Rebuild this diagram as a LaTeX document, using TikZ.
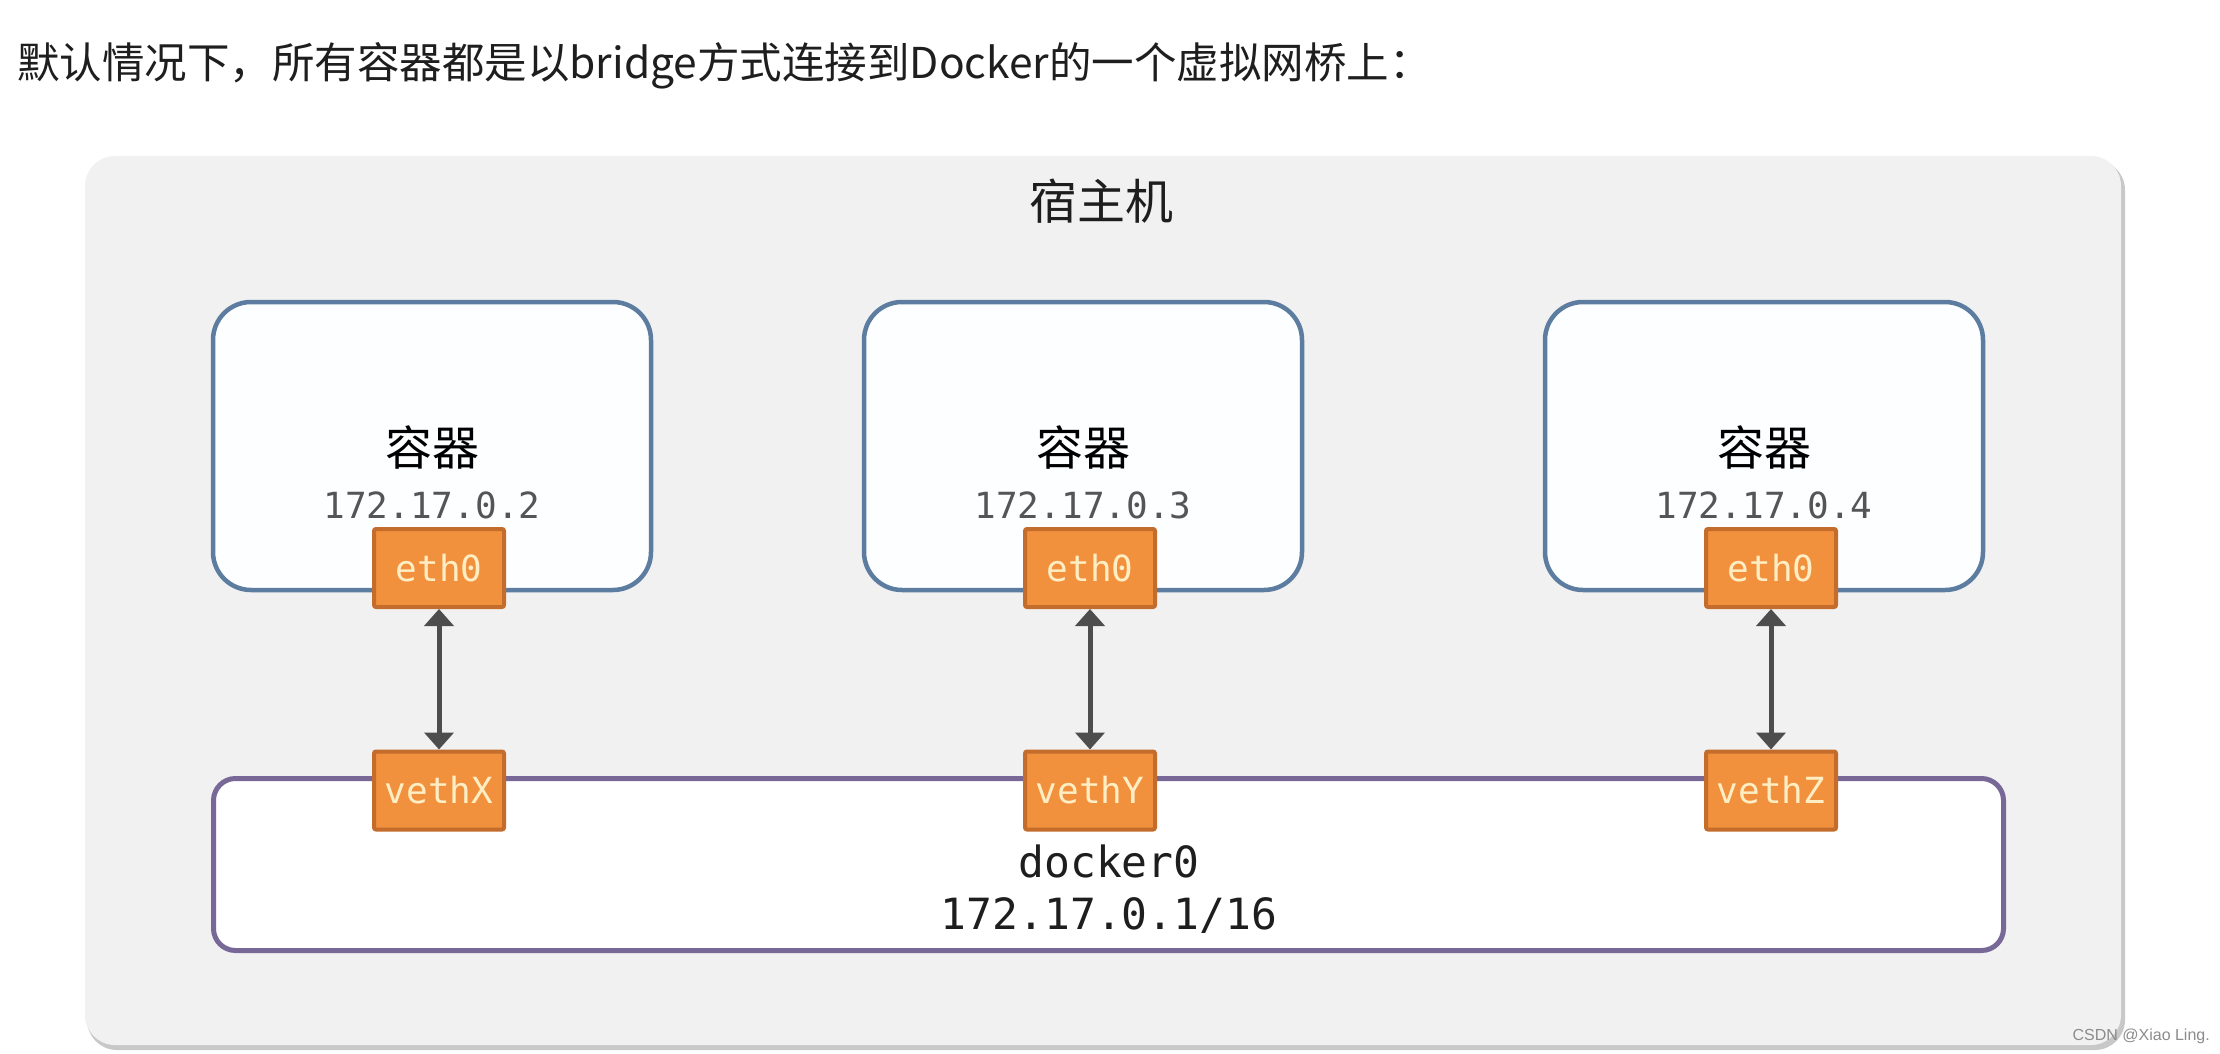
\documentclass[tikz,border=0pt]{standalone}
\usepackage{fontspec}
\setmainfont{Noto Sans CJK SC}
\newfontfamily\cjkfont{Noto Sans CJK SC}
\newfontfamily\monofont{DejaVu Sans Mono}
\newfontfamily\wmfont{Liberation Sans}
\usetikzlibrary{arrows.meta}
\definecolor{hostfill}{RGB}{241,241,241}
\definecolor{hostshadow}{RGB}{200,200,200}
\definecolor{contborder}{RGB}{92,124,160}
\definecolor{contfill}{RGB}{252,254,255}
\definecolor{bridgeborder}{RGB}{120,104,152}
\definecolor{nicfill}{RGB}{241,145,62}
\definecolor{nicborder}{RGB}{196,108,44}
\definecolor{nictext}{RGB}{255,238,196}
\definecolor{linkcol}{RGB}{77,77,77}
\definecolor{iptext}{RGB}{85,85,85}
\definecolor{titletext}{RGB}{30,30,30}
\definecolor{wmtext}{RGB}{140,140,140}
\tikzset{
  hostbox/.style={fill=hostfill, rounded corners=30pt, inner sep=0pt,
    minimum width=2036pt, minimum height=889pt},
  contbox/.style={draw=contborder, fill=contfill, line width=4.5pt,
    rounded corners=38pt, inner sep=0pt, minimum width=438pt, minimum height=288pt},
  bridgebox/.style={draw=bridgeborder, fill=white, line width=5pt,
    rounded corners=22pt, inner sep=0pt, minimum width=1790pt, minimum height=172pt},
  nicbox/.style={draw=nicborder, fill=nicfill, line width=4pt, rounded corners=2pt,
    inner sep=0pt, minimum width=130pt, minimum height=78pt, text=nictext,
    font=\monofont\fontsize{36}{40}\selectfont},
  link/.style={draw=linkcol, line width=5pt,
    {Triangle[length=17pt,width=29pt]}-{Triangle[length=17pt,width=29pt]}},
  cjklabel/.style={anchor=base, inner sep=0pt, text=black,
    font=\cjkfont\fontsize{47}{52}\selectfont},
  iplabel/.style={anchor=base, inner sep=0pt, text=iptext,
    font=\monofont\fontsize{36}{40}\selectfont},
  brlabel/.style={anchor=base, inner sep=0pt, text=titletext,
    font=\monofont\fontsize{43}{48}\selectfont}
}
\begin{document}
\begin{tikzpicture}[x=1pt,y=-1pt]
\fill[white] (0,0) rectangle (2220,1054);
\useasboundingbox (0,0) rectangle (2220,1054);

% title
\node[anchor=base west, inner sep=0pt, text=titletext,
  font=\cjkfont\fontsize{42.5}{48}\selectfont] (title) at (17,79)
  {默认情况下，所有容器都是以bridge方式连接到Docker的一个虚拟网桥上：};

% host machine
\fill[hostshadow, rounded corners=30pt] (87,160) rectangle (2125,1050);
\node[hostbox] (host) at (1103,600.5) {};
\node[anchor=base, inner sep=0pt, text=titletext,
  font=\cjkfont\fontsize{48}{54}\selectfont] (hostlabel) at (1101,219) {宿主机};

% containers
\node[contbox] (c1) at (432,446) {};
\node[contbox] (c2) at (1083,446) {};
\node[contbox] (c3) at (1764,446) {};

\node[cjklabel] (c1label) at (432,465) {容器};
\node[cjklabel] (c2label) at (1083,465) {容器};
\node[cjklabel] (c3label) at (1764,465) {容器};

\node[iplabel] (c1ip) at (432,518) {172.17.0.2};
\node[iplabel] (c2ip) at (1083,518) {172.17.0.3};
\node[iplabel] (c3ip) at (1764,518) {172.17.0.4};

\node[nicbox] (eth1) at (439,568) {eth0};
\node[nicbox] (eth2) at (1090,568) {eth0};
\node[nicbox] (eth3) at (1771,568) {eth0};

% bridge
\node[bridgebox] (bridge) at (1108.5,864.5) {};
\node[brlabel] (brname) at (1109,877) {docker0};
\node[brlabel] (brip) at (1109,929) {172.17.0.1/16};

\node[nicbox] (veth1) at (439,790.5) {vethX};
\node[nicbox] (veth2) at (1090,790.5) {vethY};
\node[nicbox] (veth3) at (1771,790.5) {vethZ};

% links
\draw[link] (eth1.south) -- (veth1.north);
\draw[link] (eth2.south) -- (veth2.north);
\draw[link] (eth3.south) -- (veth3.north);

% watermark
\node[anchor=base east, inner sep=0pt, text=wmtext,
  font=\wmfont\fontsize{16}{18}\selectfont] (wm) at (2210,1040) {CSDN @Xiao Ling.};
\end{tikzpicture}
\end{document}
